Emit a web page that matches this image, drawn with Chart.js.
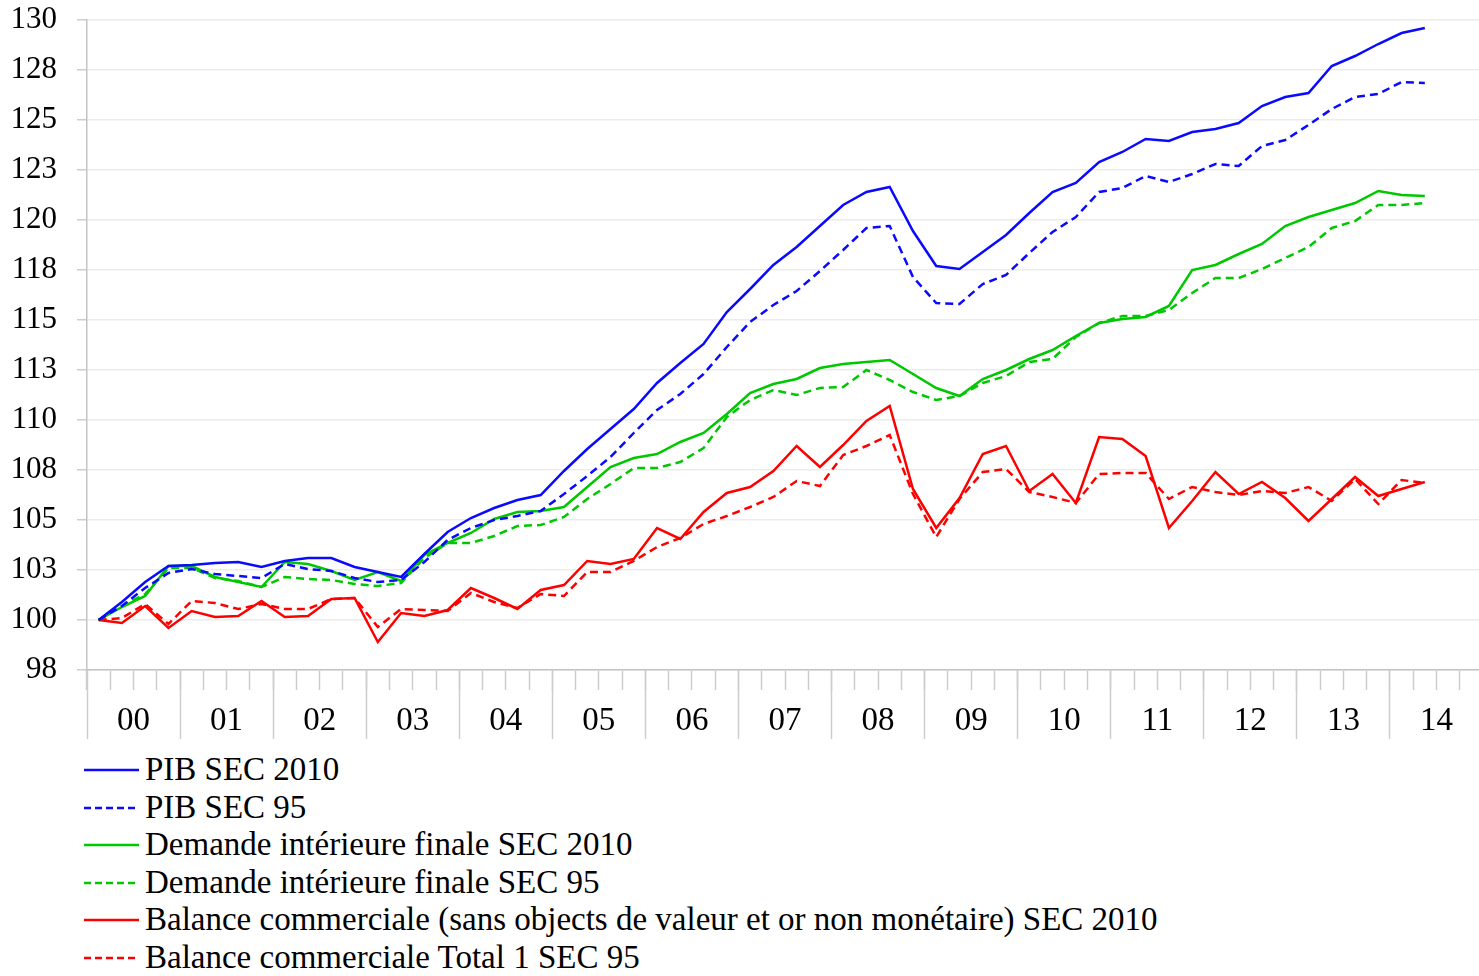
<!DOCTYPE html>
<html>
<head>
<meta charset="utf-8">
<title>PIB, demande intérieure et balance commerciale</title>
<script src="https://cdn.jsdelivr.net/npm/chart.js@4.4.1/dist/chart.umd.min.js"></script>
<style>
  html, body { margin: 0; padding: 0; background: #fff; overflow: hidden; }
  body { width: 1479px; height: 976px; position: relative; font-family: "Liberation Serif", "Times New Roman", serif; }
  #wrap { position: absolute; left: 0; top: 0; width: 1483px; height: 745px; }
  #legend { position: absolute; left: 0; top: 751px; width: 1479px; }
  .leg { position: absolute; left: 0; height: 37.5px; line-height: 37.5px; font-size: 33px; color: #000; white-space: nowrap; }
  .leg svg { position: absolute; left: 84px; top: 17px; }
  .leg span { position: absolute; left: 145px; top: 0; }
</style>
</head>
<body>
<div id="wrap"><canvas id="chart"></canvas></div>
<div id="legend"></div>
<script>
/* ── data: 2000T1 .. 2014T2, indice base 100 ── */
var years = ["00","01","02","03","04","05","06","07","08","09","10","11","12","13","14"];

var pib2010 = [100,100.9,101.9,102.7, 102.75,102.85,102.9,102.65, 102.95,103.1,103.1,102.65,
  102.4,102.15,103.3,104.4, 105.1,105.6,106.0,106.25, 107.45,108.55,109.55,110.55,
  111.85,112.85,113.8,115.4, 116.55,117.75,118.65,119.7, 120.75,121.4,121.65,119.45,
  117.7,117.55,118.4,119.25, 120.35,121.4,121.85,122.9, 123.4,124.05,123.95,124.4,
  124.55,124.85,125.7,126.15, 126.35,127.7,128.2,128.8, 129.35,129.6];

var pib95 = [100,100.7,101.6,102.35, 102.55,102.3,102.2,102.1, 102.8,102.55,102.45,102.1,
  101.9,102.0,102.9,104.0, 104.6,105.0,105.2,105.45, 106.3,107.2,108.15,109.35,
  110.5,111.3,112.3,113.65, 114.9,115.75,116.45,117.45, 118.5,119.6,119.7,117.15,
  115.85,115.8,116.8,117.25, 118.35,119.4,120.15,121.4, 121.6,122.2,121.9,122.3,
  122.8,122.7,123.7,124.0, 124.75,125.55,126.15,126.3, 126.9,126.85];

var dif2010 = [100,100.65,101.2,102.7, 102.7,102.15,101.9,101.65, 102.9,102.8,102.45,102.0,
  102.4,101.95,103.25,103.85, 104.35,105.05,105.4,105.45, 105.65,106.65,107.65,108.1,
  108.3,108.9,109.35,110.3, 111.35,111.8,112.05,112.6, 112.8,112.9,113.0,112.3,
  111.6,111.2,112.05,112.5, 113.05,113.5,114.2,114.85, 115.05,115.15,115.7,117.5,
  117.75,118.3,118.8,119.7, 120.15,120.5,120.85,121.45, 121.25,121.2];

var dif95 = [100,100.7,101.3,102.6, 102.6,102.1,101.95,101.65, 102.15,102.05,102.0,101.8,
  101.7,101.85,103.1,103.85, 103.85,104.2,104.7,104.75, 105.15,106.05,106.8,107.6,
  107.6,107.9,108.6,110.15, 111.0,111.5,111.25,111.6, 111.65,112.5,112.0,111.4,
  111.0,111.2,111.85,112.2, 112.9,113.05,114.15,114.85, 115.2,115.2,115.5,116.35,
  117.1,117.1,117.55,118.1, 118.65,119.6,119.95,120.75, 120.75,120.85];

var bc2010 = [100,99.85,100.7,99.6, 100.45,100.15,100.2,100.95, 100.15,100.2,101.05,101.1,
  98.9,100.35,100.2,100.5, 101.6,101.1,100.55,101.5, 101.75,102.95,102.8,103.05,
  104.6,104.05,105.4,106.35, 106.65,107.45,108.7,107.65, 108.75,109.95,110.7,106.55,
  104.6,106.1,108.3,108.7, 106.45,107.3,105.85,109.15, 109.05,108.2,104.6,105.95,
  107.4,106.3,106.9,106.1, 104.95,106.05,107.15,106.2, 106.55,106.9];

var bc95 = [100,100.1,100.8,99.8, 100.95,100.85,100.55,100.8, 100.55,100.55,101.05,101.1,
  99.65,100.55,100.5,100.45, 101.35,100.9,100.6,101.3, 101.2,102.4,102.4,102.95,
  103.65,104.1,104.8,105.2, 105.65,106.15,106.95,106.7, 108.25,108.7,109.25,106.3,
  104.15,106.05,107.4,107.55, 106.4,106.15,105.85,107.3, 107.35,107.35,106.05,106.65,
  106.4,106.25,106.45,106.35, 106.65,105.95,107.05,105.8, 107.0,106.85];

var seriesNames = [
  "PIB SEC 2010",
  "PIB SEC 95",
  "Demande intérieure finale SEC 2010",
  "Demande intérieure finale SEC 95",
  "Balance commerciale (sans objects de valeur et or non monétaire) SEC 2010",
  "Balance commerciale Total 1 SEC 95"
];

/* one category per quarter, whole years on the axis */
var quarters = [];
years.forEach(function(y) {
  for (var q = 1; q <= 4; q++) quarters.push("20" + y + "T" + q);
});

var FONT = "'Liberation Serif','Times New Roman',serif";
var BLUE = "#0a0aff", GREEN = "#00c800", RED = "#ff0000";
var AXIS = "#c4c4c4", TICK = "#cdcdcd", GRID = "#ececec";

var styles = [
  { color: BLUE,  dash: [] },
  { color: BLUE,  dash: [8, 5] },
  { color: GREEN, dash: [] },
  { color: GREEN, dash: [8, 5] },
  { color: RED,   dash: [] },
  { color: RED,   dash: [8, 5] }
];
var values = [pib2010, pib95, dif2010, dif95, bc2010, bc95];

var datasets = values.map(function(v, i) {
  return {
    label: seriesNames[i],
    data: v,
    borderColor: styles[i].color,
    backgroundColor: styles[i].color,
    borderDash: styles[i].dash,
    borderWidth: 2.5,
    pointRadius: 0,
    tension: 0,
    fill: false
  };
});

new Chart(document.getElementById("chart"), {
  type: "line",
  data: { labels: quarters, datasets: datasets },
  options: {
    responsive: true, maintainAspectRatio: false, animation: false,
    layout: { padding: { top: 20, right: 0, bottom: 0, left: 0 } },
    plugins: { legend: { display: false }, tooltip: { enabled: false } },
    scales: {
      x: {
        type: "category", offset: true,
        grid: { offset: true, drawOnChartArea: false, tickLength: 20, tickColor: TICK, tickWidth: 1.5 },
        border: { display: true, color: AXIS, width: 1.5 },
        ticks: { display: false },
        afterFit: function(s) { s.height = 0; }
      },
      x2: {
        type: "category", labels: years, offset: true, position: "bottom",
        grid: { offset: true, drawOnChartArea: false, tickLength: 69, tickColor: TICK, tickWidth: 1.5 },
        border: { display: false },
        ticks: { color: "#000", font: { family: FONT, size: 33 }, padding: -37, maxRotation: 0, autoSkip: false },
        afterFit: function(s) { s.height = 75; }
      },
      y: {
        min: 97.5, max: 130,
        ticks: {
          stepSize: 2.5, color: "#000", padding: 20,
          font: { family: FONT, size: 31 },
          callback: function(v) { return Math.round(v); }
        },
        grid: { color: GRID, lineWidth: 1.5, tickLength: 10, tickColor: TICK, tickWidth: 1.5 },
        border: { color: AXIS, width: 1.5 },
        afterFit: function(s) { s.width = 87; s.paddingTop = 0; s.paddingBottom = 0; }
      }
    }
  }
});

/* legend, one entry per line */
var legendEl = document.getElementById("legend");
seriesNames.forEach(function(name, i) {
  var dash = styles[i].dash.length ? ' stroke-dasharray="7 4"' : '';
  legendEl.innerHTML +=
    '<div class="leg" style="top:' + (i * 37.5) + 'px">' +
      '<svg width="56" height="4"><line x1="0" y1="2" x2="55" y2="2" stroke="' + styles[i].color +
      '" stroke-width="2.5"' + dash + '/></svg>' +
      '<span>' + name + '</span>' +
    '</div>';
});
</script>
</body>
</html>
